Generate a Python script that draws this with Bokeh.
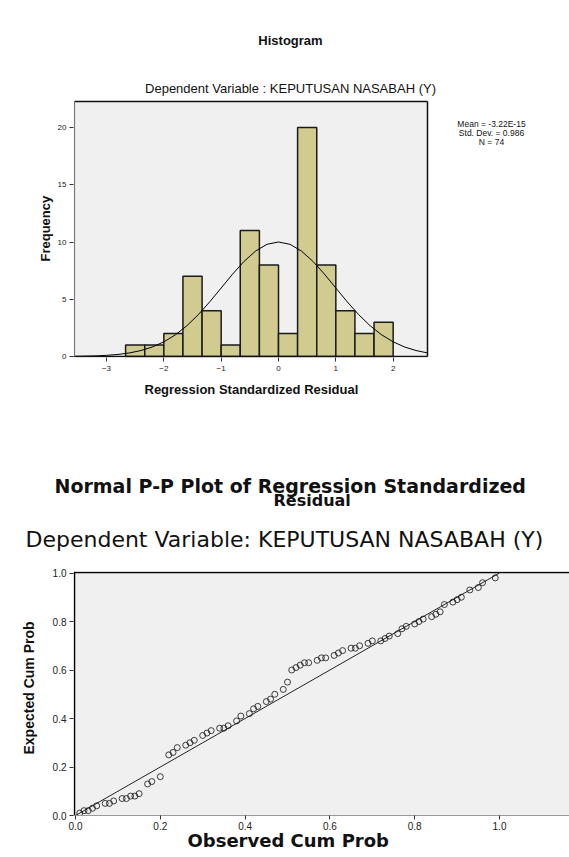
from bokeh.plotting import figure
from bokeh.layouts import column
from bokeh.models import Range1d, FixedTicker, PrintfTickFormatter, Title
from bokeh.core.properties import value
from bokeh.embed import file_html
from bokeh.resources import INLINE

# ---------------- Histogram data ----------------
bin_left = [-2.667, -2.333, -2.0, -1.667, -1.333, -1.0, -0.667, -0.333, 0.0, 0.333, 0.667, 1.0, 1.333, 1.667]
bin_right = [-2.333, -2.0, -1.667, -1.333, -1.0, -0.667, -0.333, 0.0, 0.333, 0.667, 1.0, 1.333, 1.667, 2.0]
frequency = [1, 1, 2, 7, 4, 1, 11, 8, 2, 20, 8, 4, 2, 3]
hist_xticks = [-3, -2, -1, 0, 1, 2]
hist_yticks = [0, 5, 10, 15, 20]

# normal curve heights
curve_x = [-3.6, -3.4, -3.2, -3.0, -2.8, -2.6, -2.4, -2.2, -2.0, -1.8, -1.6, -1.4, -1.2, -1.0,
           -0.8, -0.6, -0.4, -0.2, 0.0, 0.2, 0.4, 0.6, 0.8, 1.0, 1.2, 1.4, 1.6, 1.8, 2.0,
           2.2, 2.4, 2.6]
curve_y = [0.01, 0.03, 0.05, 0.10, 0.18, 0.31, 0.52, 0.83, 1.28, 1.89, 2.68, 3.65, 4.77, 5.98,
           7.20, 8.31, 9.21, 9.80, 10.0, 9.80, 9.21, 8.31, 7.20, 5.98, 4.77, 3.65, 2.68, 1.89, 1.28,
           0.83, 0.52, 0.31]
stats_lines = ["Mean = -3.22E-15", "Std. Dev. = 0.986", "N = 74"]

# ---------------- P-P plot data ----------------
observed_cum = [0.01, 0.02, 0.03, 0.04, 0.05, 0.07, 0.08, 0.09, 0.11, 0.12, 0.13, 0.14, 0.15,
                0.17, 0.18, 0.20,
                0.22, 0.23, 0.24, 0.26, 0.27, 0.28, 0.30, 0.31, 0.32, 0.34, 0.35, 0.36,
                0.38, 0.39, 0.41, 0.42, 0.43, 0.45, 0.46, 0.47,
                0.49, 0.50,
                0.51, 0.52, 0.53, 0.54, 0.55, 0.57, 0.58, 0.59, 0.61, 0.62, 0.63, 0.65,
                0.66, 0.67, 0.69, 0.70, 0.72, 0.73, 0.74, 0.76,
                0.77, 0.78, 0.80, 0.81, 0.82, 0.84, 0.85, 0.86,
                0.87, 0.89, 0.90, 0.91,
                0.93, 0.95,
                0.96, 0.99]
expected_cum = [0.01, 0.02, 0.02, 0.03, 0.04, 0.05, 0.05, 0.06, 0.07, 0.07, 0.08, 0.08, 0.09,
                0.13, 0.14, 0.16,
                0.25, 0.26, 0.28, 0.29, 0.30, 0.31, 0.33, 0.34, 0.35, 0.36, 0.36, 0.37,
                0.39, 0.41, 0.42, 0.44, 0.45, 0.47, 0.48, 0.50,
                0.52, 0.55,
                0.60, 0.61, 0.62, 0.63, 0.63, 0.64, 0.65, 0.65, 0.66, 0.67, 0.68, 0.69,
                0.69, 0.70, 0.71, 0.72, 0.72, 0.73, 0.74, 0.75,
                0.77, 0.78, 0.79, 0.80, 0.81, 0.82, 0.83, 0.84,
                0.87, 0.88, 0.89, 0.90,
                0.93, 0.94,
                0.96, 0.98]
ref_line_x = [0.0, 1.0]
ref_line_y = [0.0, 1.0]
pp_ticks = [0.0, 0.2, 0.4, 0.6, 0.8, 1.0]

SANS = "Liberation Sans"
WIDE = "DejaVu Sans"
BG = "#f0f0f0"
INK = "#111111"
LEFT = 73           # frame left border (px) shared by both figures

# ================= Histogram figure (page px -> data) =================
H_X0, H_XU, H_Y0, H_YU = 278.0, 57.33, 356.0, 11.45
def hx(px): return (px - H_X0) / H_XU
def hy(py): return (H_Y0 - py) / H_YU

H_HEIGHT, H_BOTTOM = 428, 71
p1 = figure(width=569, height=H_HEIGHT, output_backend="svg", toolbar_location=None,
            x_range=Range1d(hx(LEFT), hx(569)), y_range=Range1d(hy(H_HEIGHT - H_BOTTOM), hy(0)),
            min_border_left=LEFT, min_border_right=0, min_border_top=0, min_border_bottom=H_BOTTOM)
p1.background_fill_color = "white"
p1.border_fill_color = "white"
p1.outline_line_color = None
p1.grid.visible = False

pl, pr, pt = hx(LEFT + 1), hx(427), hy(101)
p1.quad(left=[pl], right=[pr], bottom=[0], top=[pt], fill_color=BG, line_color=None)
p1.quad(left=bin_left, right=bin_right, bottom=0, top=frequency,
        fill_color="#d1cb90", line_color="#1a1a1a", line_width=1.5)
p1.line(curve_x, curve_y, line_color="black", line_width=1)
p1.segment(x0=[pl, pr, pl], y0=[pt, 0, 0], x1=[pr, pr, pr], y1=[pt, pt, 0],
           line_color="#111111", line_width=1.5)
p1.segment(x0=[pl], y0=[0], x1=[pl], y1=[pt], line_color="#777777", line_width=1.2)

p1.text(x=[hx(290)], y=[hy(40)], text=["Histogram"], text_align="center", text_baseline="middle",
        text_font=value(SANS), text_font_style="bold", text_font_size=value("13px"), text_color=INK)
p1.text(x=[hx(290)], y=[hy(88)], text=["Dependent Variable : KEPUTUSAN NASABAH (Y)"],
        text_align="center", text_baseline="middle", text_font=value(SANS),
        text_font_size=value("13px"), text_color=INK)
p1.text(x=[hx(491)] * 3, y=[hy(123), hy(132), hy(141)], text=stats_lines,
        text_align="center", text_baseline="middle", text_font=value(SANS),
        text_font_size=value("8.5px"), text_color=INK)

for ax in (p1.xaxis[0], p1.yaxis[0]):
    ax.minor_tick_line_color = None
    ax.major_tick_in = 0
    ax.major_tick_out = 4
    ax.major_label_text_font = SANS
    ax.major_label_text_font_size = "8px"
    ax.major_label_text_color = "#222222"
    ax.axis_line_color = None
    ax.major_tick_line_color = "#333333"
p1.xaxis.ticker = FixedTicker(ticks=hist_xticks)
p1.yaxis.ticker = FixedTicker(ticks=hist_yticks)
p1.xaxis.major_label_standoff = 4
p1.yaxis.major_label_standoff = 3

p1.add_layout(Title(text="Regression Standardized Residual", align="left", offset=71,
                    standoff=12, text_font=SANS, text_font_style="bold",
                    text_font_size="13px", text_color=INK), "below")
p1.add_layout(Title(text="Frequency", align="left", offset=96, standoff=4,
                    text_font=SANS, text_font_style="bold", text_font_size="13px",
                    text_color=INK), "left")

# ================= P-P plot figure =================
P_TOP = H_HEIGHT
P_X0, P_XU, P_Y0, P_YU = 75.0, 424.0, 815.0, 242.5
def qx(px): return (px - P_X0) / P_XU
def qy(py): return (P_Y0 - py) / P_YU

FRAME_TOP = 571
P_HEIGHT, P_BOTTOM = 857 - P_TOP, 42
p2 = figure(width=569, height=P_HEIGHT, output_backend="svg", toolbar_location=None,
            x_range=Range1d(qx(LEFT), qx(569)), y_range=Range1d(0, qy(FRAME_TOP)),
            min_border_left=LEFT, min_border_right=0, min_border_top=FRAME_TOP - P_TOP,
            min_border_bottom=P_BOTTOM)
p2.background_fill_color = BG
p2.border_fill_color = "white"
p2.outline_line_color = None
p2.grid.visible = False

ql, qr, qt = qx(LEFT + 1), qx(569), qy(572)
p2.segment(x0=[ql, ql], y0=[0, qt], x1=[ql, qr], y1=[qy(FRAME_TOP), qt],
           line_color="black", line_width=1.5)

p2.line(ref_line_x, ref_line_y, line_color="#222222", line_width=1)
p2.scatter(observed_cum, expected_cum, marker="circle", size=6, fill_color=None,
           line_color="#111111", line_width=0.8)

for ax in (p2.xaxis[0], p2.yaxis[0]):
    ax.minor_tick_line_color = None
    ax.major_tick_in = 0
    ax.major_tick_out = 4
    ax.ticker = FixedTicker(ticks=pp_ticks)
    ax.formatter = PrintfTickFormatter(format="%.1f")
    ax.major_label_text_font = SANS
    ax.major_label_text_font_size = "10px"
    ax.major_label_text_color = "#222222"
    ax.major_tick_line_color = "#333333"
p2.yaxis.axis_line_color = None
p2.xaxis.axis_line_color = "#999999"
p2.xaxis.major_label_standoff = 2
p2.yaxis.major_label_standoff = 3

# titles above the P-P frame (first added sits closest to the frame)
p2.add_layout(Title(text="Dependent Variable: KEPUTUSAN NASABAH (Y)", align="left", offset=-48,
                    vertical_align="middle", standoff=38, text_font=WIDE,
                    text_font_style="normal", text_font_size="22px", text_color=INK), "above")
p2.add_layout(Title(text="Residual", align="left", offset=200, vertical_align="middle",
                    standoff=-9, text_font=WIDE, text_font_style="bold",
                    text_font_size="16px", text_color=INK), "above")
p2.add_layout(Title(text="Normal P-P Plot of Regression Standardized", align="left", offset=-19,
                    vertical_align="middle", standoff=-7, text_font=WIDE,
                    text_font_style="bold", text_font_size="19px", text_color=INK), "above")

p2.add_layout(Title(text="Observed Cum Prob", align="left", offset=114, standoff=-10,
                    text_font=WIDE, text_font_style="bold", text_font_size="18px",
                    text_color=INK), "below")
p2.add_layout(Title(text="Expected Cum Prob", align="left", offset=61, standoff=26,
                    text_font=SANS, text_font_style="bold", text_font_size="14px",
                    text_color=INK), "left")

layout = column(p1, p2)
open("out.html", "w").write(file_html(layout, INLINE))
